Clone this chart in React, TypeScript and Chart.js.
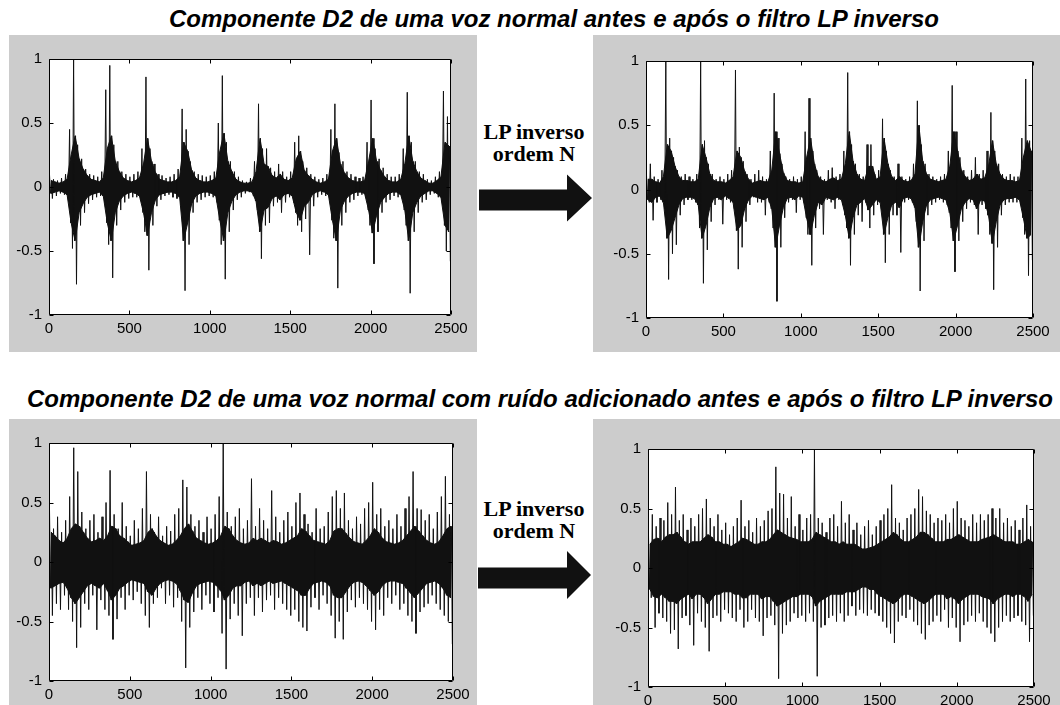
import React, { useEffect, useRef } from "react";
import { Chart, registerables } from "chart.js";

Chart.register(...registerables);

// ---------- data ----------
const xTicks = [0, 500, 1000, 1500, 2000, 2500];
const yTicks = [-1, -0.5, 0, 0.5, 1];
const BIN = 25; // samples covered by each envelope value

const title1 = "Componente D2 de uma voz normal antes e após o filtro LP inverso";
const title2 = "Componente D2 de uma voz normal com ruído adicionado antes e após o filtro LP inverso";
const arrowLines = ["LP inverso", "ordem N"];

// top-left: clean voice, before inverse LP (spike extremes and dense core per 25-sample bin)
const tlHi = [.10,.06,.05,.07,.10,.45,1.0,.33,.22,.14,.10,.09,.08,.12,.76,.95,.33,.20,.12,.10,.08,.10,.12,.30,.86,.30,.18,.10,.09,.07,.08,.10,.14,.61,.45,.20,.12,.10,.09,.08,.09,.12,.50,.87,.35,.20,.12,.08,.05,.04,.07,.20,.65,.30,.30,.15,.12,.18,.12,.08,.12,.35,.40,.20,.15,.10,.08,.06,.07,.10,.45,.65,.27,.20,.12,.10,.08,.07,.08,.35,.68,.30,.22,.15,.10,.08,.08,.10,.30,.74,.35,.20,.12,.10,.06,.05,.08,.12,.75,.55];
const tlLo = [-.09,-.07,-.05,-.06,-.10,-.48,-.76,-.30,-.20,-.13,-.10,-.08,-.07,-.12,-.45,-.71,-.30,-.18,-.12,-.09,-.08,-.08,-.10,-.35,-.65,-.30,-.15,-.10,-.07,-.06,-.08,-.09,-.14,-.81,-.45,-.20,-.12,-.10,-.08,-.07,-.08,-.12,-.45,-.72,-.35,-.18,-.10,-.08,-.05,-.04,-.07,-.18,-.56,-.30,-.28,-.15,-.12,-.20,-.12,-.08,-.12,-.30,-.35,-.25,-.53,-.15,-.08,-.06,-.07,-.10,-.40,-.79,-.30,-.20,-.12,-.10,-.07,-.06,-.08,-.30,-.60,-.35,-.20,-.12,-.10,-.07,-.08,-.08,-.30,-.83,-.35,-.20,-.12,-.10,-.06,-.05,-.08,-.12,-.50,-.58];
const tlCoreHi = [.05,.04,.03,.04,.06,.25,.40,.22,.14,.09,.06,.05,.04,.07,.30,.40,.20,.12,.07,.05,.04,.05,.07,.18,.38,.20,.11,.06,.05,.04,.04,.05,.08,.35,.28,.13,.07,.05,.04,.04,.05,.07,.28,.42,.20,.12,.06,.04,.03,.03,.04,.12,.38,.18,.16,.09,.07,.10,.06,.05,.07,.22,.28,.13,.09,.06,.04,.03,.04,.06,.28,.38,.18,.11,.07,.05,.04,.04,.05,.20,.38,.20,.13,.08,.05,.04,.04,.06,.18,.40,.20,.12,.07,.05,.03,.03,.05,.08,.35,.32];
const tlCoreLo = [-.05,-.04,-.03,-.04,-.06,-.28,-.42,-.20,-.13,-.08,-.06,-.05,-.04,-.07,-.28,-.42,-.20,-.11,-.07,-.05,-.04,-.05,-.07,-.20,-.38,-.20,-.10,-.06,-.05,-.04,-.04,-.05,-.08,-.42,-.28,-.13,-.07,-.05,-.04,-.04,-.05,-.07,-.26,-.42,-.20,-.11,-.06,-.04,-.03,-.03,-.04,-.11,-.35,-.18,-.16,-.09,-.07,-.10,-.06,-.05,-.07,-.20,-.26,-.15,-.12,-.06,-.04,-.03,-.04,-.06,-.26,-.42,-.18,-.11,-.07,-.05,-.04,-.04,-.05,-.18,-.36,-.22,-.12,-.08,-.05,-.04,-.04,-.06,-.18,-.42,-.20,-.12,-.07,-.05,-.03,-.03,-.05,-.08,-.30,-.35];

// top-right: clean voice, after inverse LP
const trHi = [.12,.20,.10,.08,.15,1.0,.40,.25,.15,.10,.12,.10,.08,.12,1.0,.38,.20,.12,.08,.10,.08,.12,.15,.93,.33,.22,.12,.08,.12,.15,.10,.08,.30,.75,.40,.20,.10,.08,.10,.08,.10,.45,.71,.30,.15,.10,.08,.15,.17,.10,.12,.30,.91,.35,.20,.12,.10,.35,.35,.12,.15,.55,.30,.15,.10,.20,.10,.08,.10,.20,.69,.35,.20,.12,.10,.08,.10,.12,.30,.81,.45,.25,.15,.10,.15,.25,.12,.15,.30,.60,.30,.20,.12,.10,.12,.10,.10,.40,.86,.38];
const trLo = [-.10,-.24,-.10,-.08,-.15,-.70,-.50,-.43,-.20,-.12,-.08,-.08,-.10,-.30,-.73,-.47,-.25,-.12,-.08,-.27,-.08,-.10,-.15,-.62,-.45,-.25,-.12,-.06,-.10,-.10,-.20,-.10,-.30,-.87,-.45,-.22,-.10,-.08,-.18,-.08,-.10,-.35,-.59,-.30,-.15,-.35,-.08,-.10,-.15,-.08,-.12,-.30,-.59,-.35,-.20,-.25,-.10,-.30,-.20,-.12,-.15,-.57,-.35,-.20,-.20,-.49,-.10,-.08,-.10,-.25,-.79,-.40,-.20,-.12,-.10,-.08,-.10,-.12,-.30,-.64,-.40,-.25,-.15,-.10,-.12,-.35,-.12,-.15,-.35,-.78,-.45,-.20,-.12,-.10,-.10,-.10,-.12,-.35,-.67,-.55];
const trCoreHi = [.08,.08,.06,.05,.10,.35,.30,.18,.10,.07,.07,.06,.06,.08,.35,.25,.12,.07,.06,.06,.05,.07,.10,.30,.25,.14,.08,.05,.06,.07,.06,.06,.15,.45,.28,.13,.07,.06,.06,.05,.06,.25,.40,.20,.10,.07,.06,.08,.09,.07,.08,.20,.45,.22,.12,.08,.07,.18,.18,.08,.10,.40,.20,.10,.07,.10,.07,.06,.07,.12,.50,.22,.12,.08,.07,.06,.07,.08,.18,.45,.30,.15,.10,.07,.08,.12,.08,.09,.18,.38,.20,.12,.08,.07,.07,.06,.07,.25,.38,.30];
const trCoreLo = [-.08,-.10,-.06,-.05,-.10,-.38,-.32,-.22,-.12,-.07,-.06,-.06,-.07,-.12,-.38,-.28,-.14,-.07,-.06,-.08,-.05,-.07,-.10,-.32,-.28,-.15,-.08,-.05,-.06,-.07,-.08,-.06,-.15,-.45,-.28,-.14,-.07,-.06,-.08,-.05,-.06,-.22,-.35,-.20,-.10,-.12,-.06,-.07,-.08,-.06,-.08,-.20,-.38,-.22,-.12,-.10,-.07,-.16,-.12,-.08,-.10,-.35,-.22,-.12,-.10,-.14,-.07,-.06,-.07,-.14,-.45,-.25,-.12,-.08,-.07,-.06,-.07,-.08,-.18,-.40,-.28,-.15,-.10,-.07,-.08,-.15,-.08,-.09,-.20,-.42,-.25,-.12,-.08,-.07,-.07,-.06,-.08,-.22,-.38,-.35];

// bottom-left: noisy voice, before inverse LP
const blHi = [.45,.28,.38,.25,.35,.55,.96,.76,.42,.28,.35,.40,.25,.38,.50,.77,.40,.28,.50,.30,.22,.35,.28,.45,.76,.40,.25,.38,.22,.30,.26,.40,.45,.69,.63,.40,.30,.35,.25,.38,.28,.40,.55,1.0,.42,.30,.38,.45,.28,.35,.70,.30,.45,.35,.28,.60,.38,.25,.35,.42,.30,.50,.58,.40,.32,.25,.45,.28,.30,.42,.55,.60,.45,.58,.35,.28,.38,.32,.45,.50,.67,.40,.45,.30,.35,.28,.40,.30,.45,.55,.76,.45,.44,.35,.40,.28,.42,.55,.72,.40];
const blLo = [-.45,-.35,-.40,-.28,-.40,-.50,-.72,-.55,-.35,-.40,-.28,-.57,-.32,-.40,-.45,-.65,-.48,-.30,-.40,-.28,-.32,-.25,-.35,-.45,-.55,-.35,-.30,-.22,-.35,-.28,-.38,-.30,-.50,-.89,-.55,-.42,-.30,-.40,-.28,-.35,-.42,-.30,-.60,-.90,-.48,-.35,-.45,-.62,-.35,-.30,-.45,-.30,-.42,-.32,-.28,-.40,-.30,-.35,-.40,-.45,-.40,-.50,-.55,-.58,-.38,-.30,-.40,-.28,-.35,-.45,-.64,-.50,-.65,-.42,-.32,-.38,-.30,-.35,-.40,-.50,-.57,-.40,-.45,-.30,-.35,-.28,-.40,-.35,-.45,-.50,-.60,-.42,-.38,-.35,-.28,-.35,-.40,-.45,-.50,-.69];
const blCoreHi = [.25,.22,.18,.16,.20,.28,.32,.30,.25,.20,.17,.18,.20,.18,.22,.30,.28,.22,.20,.17,.14,.15,.16,.18,.25,.28,.22,.18,.16,.14,.15,.18,.22,.28,.32,.26,.20,.18,.16,.15,.16,.18,.22,.30,.28,.22,.18,.16,.15,.16,.20,.18,.20,.18,.16,.18,.17,.15,.16,.18,.20,.22,.28,.26,.22,.18,.17,.16,.15,.18,.26,.28,.28,.24,.20,.17,.16,.15,.18,.22,.28,.25,.20,.17,.16,.15,.16,.18,.22,.26,.30,.26,.22,.18,.16,.15,.17,.22,.28,.30];
const blCoreLo = [-.22,-.20,-.18,-.17,-.22,-.30,-.35,-.30,-.25,-.20,-.18,-.20,-.22,-.18,-.24,-.32,-.28,-.22,-.20,-.17,-.15,-.16,-.17,-.18,-.25,-.28,-.22,-.18,-.16,-.15,-.16,-.18,-.24,-.32,-.34,-.26,-.20,-.18,-.17,-.16,-.17,-.20,-.24,-.32,-.28,-.22,-.20,-.20,-.17,-.16,-.20,-.18,-.20,-.18,-.16,-.18,-.17,-.16,-.18,-.20,-.22,-.24,-.28,-.28,-.22,-.18,-.17,-.16,-.17,-.20,-.28,-.30,-.30,-.25,-.20,-.17,-.16,-.17,-.20,-.24,-.28,-.25,-.20,-.17,-.16,-.16,-.17,-.18,-.22,-.26,-.30,-.26,-.22,-.18,-.17,-.16,-.18,-.22,-.28,-.30];

// bottom-right: noisy voice, after inverse LP
const brHi = [.30,.45,.35,.42,.40,.55,.45,.68,.40,.45,.32,.42,.35,.45,.50,.58,.42,.35,.45,.32,.38,.28,.35,.42,.57,.35,.40,.30,.42,.35,.40,.48,.50,.85,.63,.62,.42,.60,.35,.45,.32,.42,.45,1.0,.42,.38,.30,.42,.45,.35,.56,.38,.45,.32,.38,.28,.35,.40,.28,.35,.40,.45,.50,.70,.42,.38,.32,.42,.45,.50,.66,.60,.48,.45,.38,.42,.40,.45,.38,.50,.56,.42,.40,.35,.45,.38,.45,.40,.45,.50,.42,.50,.38,.42,.35,.40,.32,.42,.53,.35];
const brLo = [-.25,-.50,-.38,-.42,-.45,-.55,-.52,-.68,-.42,-.40,-.48,-.65,-.38,-.45,-.50,-.70,-.42,-.40,-.45,-.35,-.38,-.42,-.45,-.35,-.50,-.45,-.35,-.42,-.45,-.57,-.42,-.40,-.48,-.93,-.55,-.48,-.45,-.38,-.42,-.40,-.45,-.38,-.45,-.91,-.50,-.48,-.42,-.40,-.45,-.38,-.45,-.40,-.32,-.40,-.35,-.38,-.40,-.35,-.38,-.40,-.45,-.50,-.55,-.63,-.45,-.40,-.42,-.35,-.45,-.48,-.55,-.60,-.48,-.45,-.40,-.45,-.35,-.50,-.42,-.50,-.62,-.48,-.45,-.40,-.45,-.38,-.45,-.50,-.55,-.62,-.50,-.45,-.40,-.45,-.42,-.40,-.45,-.48,-.62,-.40];
const brCoreHi = [.20,.24,.25,.22,.26,.28,.28,.30,.26,.22,.20,.22,.22,.22,.25,.28,.26,.22,.22,.20,.20,.18,.20,.22,.25,.24,.22,.20,.20,.22,.22,.24,.28,.32,.30,.28,.26,.25,.24,.22,.22,.22,.24,.30,.28,.26,.24,.22,.22,.20,.22,.20,.20,.20,.18,.16,.16,.17,.18,.20,.22,.24,.26,.30,.28,.24,.22,.22,.24,.26,.30,.30,.28,.25,.22,.22,.22,.24,.24,.26,.28,.26,.24,.22,.22,.22,.24,.25,.26,.28,.26,.24,.22,.22,.22,.20,.20,.22,.24,.22];
const brCoreLo = [-.18,-.24,-.25,-.22,-.25,-.28,-.28,-.30,-.26,-.24,-.22,-.26,-.22,-.22,-.25,-.30,-.26,-.22,-.22,-.20,-.20,-.20,-.22,-.22,-.25,-.25,-.22,-.22,-.22,-.26,-.24,-.24,-.28,-.32,-.30,-.28,-.26,-.24,-.24,-.22,-.22,-.22,-.24,-.32,-.28,-.26,-.24,-.22,-.22,-.22,-.22,-.20,-.20,-.20,-.18,-.16,-.16,-.18,-.18,-.22,-.24,-.26,-.28,-.30,-.28,-.24,-.22,-.22,-.24,-.26,-.28,-.30,-.28,-.25,-.22,-.22,-.22,-.26,-.24,-.26,-.30,-.26,-.24,-.22,-.22,-.22,-.24,-.25,-.26,-.30,-.26,-.24,-.22,-.22,-.24,-.22,-.22,-.24,-.28,-.22];

// ---------- styling ----------
const GRAY = "#cccccc";
const INK = "#111111";
const tickFont = { family: "'Liberation Sans', Arial, sans-serif", size: 15 };

const frame = {
  id: "matlabFrame",
  beforeDraw(chart: any) {
    const { ctx, chartArea: a } = chart;
    ctx.save();
    ctx.fillStyle = "#ffffff";
    ctx.fillRect(a.left, a.top, a.right - a.left, a.bottom - a.top);
    ctx.restore();
  },
  afterDatasetsDraw(chart: any) {
    const { ctx, chartArea: a, scales } = chart;
    const L = Math.round(a.left) + 0.5;
    const R = Math.round(a.right) - 0.5;
    const T = Math.round(a.top) + 0.5;
    const B = Math.round(a.bottom) - 0.5;
    ctx.save();
    ctx.strokeStyle = "#000";
    ctx.lineWidth = 1;
    ctx.beginPath();
    ctx.rect(L, T, R - L, B - T);
    const tl = 4;
    xTicks.forEach((v) => {
      const px = Math.round(scales.x.getPixelForValue(v)) + 0.5;
      ctx.moveTo(px, B);
      ctx.lineTo(px, B - tl);
      ctx.moveTo(px, T);
      ctx.lineTo(px, T + tl);
    });
    yTicks.forEach((v) => {
      const py = Math.round(scales.y.getPixelForValue(v)) + 0.5;
      ctx.moveTo(L, py);
      ctx.lineTo(L + tl, py);
      ctx.moveTo(R, py);
      ctx.lineTo(R - tl, py);
    });
    ctx.stroke();
    ctx.restore();
  },
};

type Box = { left: number; top: number; right: number; bottom: number };

function SignalPlot(props: {
  hi: number[];
  lo: number[];
  coreHi: number[];
  coreLo: number[];
  box: Box;
}) {
  const { hi, lo, coreHi, coreLo, box } = props;
  const ref = useRef<HTMLCanvasElement>(null);
  const YW = 45;
  const XH = 25;
  const PT = 10;
  const PR = 22;
  const w = box.right - box.left + YW + PR;
  const h = box.bottom - box.top + PT + XH;

  useEffect(() => {
    // one waveform trace per bin: spike top, dense core bottom, dense core top, spike bottom
    const wave: { x: number; y: number }[] = [];
    hi.forEach((v, i) => {
      wave.push({ x: i * BIN + 3, y: v });
      wave.push({ x: i * BIN + 9, y: coreLo[i] });
      wave.push({ x: i * BIN + 15, y: coreHi[i] });
      wave.push({ x: i * BIN + 21, y: lo[i] });
    });
    const coreTop = coreHi.map((v, i) => ({ x: i * BIN + BIN / 2, y: v }));
    const coreBottom = coreLo.map((v, i) => ({ x: i * BIN + BIN / 2, y: v }));
    const chart = new Chart(ref.current as HTMLCanvasElement, {
      type: "line",
      data: {
        datasets: [
          {
            data: wave,
            borderWidth: 1,
            borderColor: INK,
            pointRadius: 0,
            fill: false,
          },
          {
            data: coreTop,
            borderWidth: 1,
            borderColor: INK,
            backgroundColor: INK,
            pointRadius: 0,
            fill: "+1",
          },
          {
            data: coreBottom,
            borderWidth: 1,
            borderColor: INK,
            pointRadius: 0,
            fill: false,
          },
        ],
      },
      options: {
        responsive: false,
        animation: false,
        events: [],
        layout: { padding: { top: PT, right: PR, left: 0, bottom: 0 } },
        plugins: { legend: { display: false }, tooltip: { enabled: false } },
        scales: {
          x: {
            type: "linear",
            min: 0,
            max: 2500,
            afterBuildTicks: (s: any) => {
              s.ticks = xTicks.map((v) => ({ value: v }));
            },
            afterFit: (s: any) => {
              s.height = XH;
            },
            ticks: {
              callback: (v: any) => String(v),
              font: tickFont,
              color: "#000",
              padding: 5,
              maxRotation: 0,
              autoSkip: false,
            },
            grid: { display: false, drawTicks: false },
            border: { display: false },
          },
          y: {
            type: "linear",
            min: -1,
            max: 1,
            afterBuildTicks: (s: any) => {
              s.ticks = yTicks.map((v) => ({ value: v }));
            },
            afterFit: (s: any) => {
              s.width = YW;
            },
            ticks: {
              callback: (v: any) => String(v),
              font: tickFont,
              color: "#000",
              padding: 7,
              autoSkip: false,
            },
            grid: { display: false, drawTicks: false },
            border: { display: false },
          },
        },
      },
      plugins: [frame],
    } as any);
    return () => chart.destroy();
  }, []);

  return (
    <canvas
      ref={ref}
      width={w}
      height={h}
      style={{ position: "absolute", left: box.left - YW, top: box.top - PT, width: w, height: h }}
    />
  );
}

function Arrow(props: { shaftL: number; shaftT: number; shaftB: number; headX: number; headT: number; headB: number; tipX: number }) {
  const { shaftL, shaftT, shaftB, headX, headT, headB, tipX } = props;
  const mid = (headT + headB) / 2;
  const pts = [
    [shaftL, shaftT],
    [headX, shaftT],
    [headX, headT],
    [tipX, mid],
    [headX, headB],
    [headX, shaftB],
    [shaftL, shaftB],
  ]
    .map((p) => p.join(","))
    .join(" ");
  return (
    <svg style={{ position: "absolute", left: 0, top: 0 }} width={1060} height={705}>
      <polygon points={pts} fill={INK} />
    </svg>
  );
}

function ArrowText(props: { top: number }) {
  return (
    <div
      style={{
        position: "absolute",
        left: 534,
        top: props.top,
        transform: "translateX(-50%)",
        fontFamily: "'Liberation Serif', 'Times New Roman', serif",
        fontWeight: "bold",
        fontSize: 22,
        lineHeight: "22px",
        textAlign: "center",
        whiteSpace: "nowrap",
        color: "#000",
      }}
    >
      {arrowLines.map((l) => (
        <div key={l}>{l}</div>
      ))}
    </div>
  );
}

function Title(props: { text: string; cx: number; top: number }) {
  return (
    <div
      style={{
        position: "absolute",
        left: props.cx,
        top: props.top,
        transform: "translateX(-50%)",
        fontFamily: "'Liberation Sans', Arial, sans-serif",
        fontWeight: "bold",
        fontStyle: "italic",
        fontSize: 24,
        lineHeight: "24px",
        whiteSpace: "nowrap",
        color: "#000",
      }}
    >
      {props.text}
    </div>
  );
}

export default function App() {
  return (
    <div
      style={{
        position: "absolute",
        left: 0,
        top: 0,
        width: 1060,
        height: 705,
        background: "#fff",
        overflow: "hidden",
      }}
    >
      <div style={{ position: "absolute", left: 9, top: 35, width: 468, height: 317, background: GRAY }} />
      <div style={{ position: "absolute", left: 593, top: 35, width: 467, height: 317, background: GRAY }} />
      <div style={{ position: "absolute", left: 9, top: 419, width: 468, height: 286, background: GRAY }} />
      <div style={{ position: "absolute", left: 593, top: 419, width: 467, height: 286, background: GRAY }} />

      <Title text={title1} cx={554} top={6.5} />
      <Title text={title2} cx={540} top={387} />

      <SignalPlot hi={tlHi} lo={tlLo} coreHi={tlCoreHi} coreLo={tlCoreLo} box={{ left: 49, top: 53, right: 451, bottom: 315 }} />
      <SignalPlot hi={trHi} lo={trLo} coreHi={trCoreHi} coreLo={trCoreLo} box={{ left: 646, top: 55, right: 1033, bottom: 318 }} />
      <SignalPlot hi={blHi} lo={blLo} coreHi={blCoreHi} coreLo={blCoreLo} box={{ left: 49, top: 437, right: 453, bottom: 681 }} />
      <SignalPlot hi={brHi} lo={brLo} coreHi={brCoreHi} coreLo={brCoreLo} box={{ left: 648, top: 443, right: 1034, bottom: 687 }} />

      <ArrowText top={121} />
      <ArrowText top={498} />
      <Arrow shaftL={479} shaftT={189.5} shaftB={210.5} headX={567} headT={174.5} headB={221.5} tipX={592} />
      <Arrow shaftL={478} shaftT={567.5} shaftB={588.5} headX={567} headT={551} headB={599} tipX={591} />
    </div>
  );
}
